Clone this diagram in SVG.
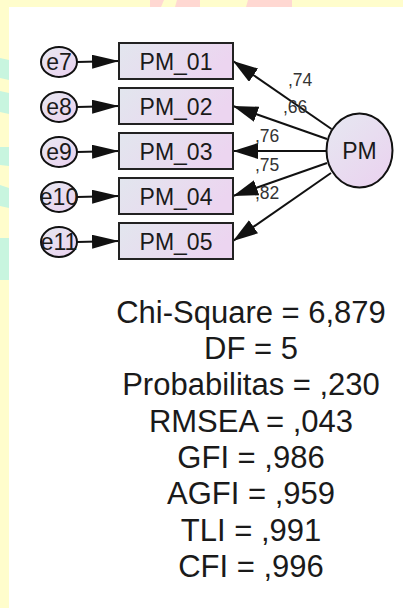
<svg xmlns="http://www.w3.org/2000/svg" width="403" height="608" viewBox="0 0 403 608">
<defs>
<linearGradient id="gBox" x1="0" y1="0" x2="1" y2="0.3">
<stop offset="0" stop-color="#e2e6ee"/>
<stop offset="1" stop-color="#ecd5f0"/>
</linearGradient>
<linearGradient id="gCirc" x1="0" y1="0" x2="0.8" y2="1">
<stop offset="0" stop-color="#e6e8f1"/>
<stop offset="1" stop-color="#ead3ef"/>
</linearGradient>
<marker id="ah" viewBox="0 0 25 16" refX="25" refY="8" markerWidth="25" markerHeight="16" markerUnits="userSpaceOnUse" orient="auto">
<path d="M0,0 L25,8 L0,16 Z" fill="#111"/>
</marker>
<marker id="ahs" viewBox="0 0 27 14" refX="27" refY="7" markerWidth="27" markerHeight="14" markerUnits="userSpaceOnUse" orient="auto">
<path d="M0,0 L27,7 L0,14 Z" fill="#111"/>
</marker>
</defs>
<style>
.box{fill:url(#gBox);stroke:#222;stroke-width:2}
.circ{fill:url(#gCirc);stroke:#111;stroke-width:2}
.t{font-family:"Liberation Sans",Arial,sans-serif;fill:#1a1a1a;text-anchor:middle}
.nt{font-size:23px}
.lbl{font-family:"Liberation Sans",Arial,sans-serif;font-size:17.5px;fill:#333}
.stat{font-size:31px}
.con{stroke:#111;stroke-width:2;fill:none}
</style>
<g id="background">
<rect x="0" y="0" width="403" height="608" fill="#fffdcc"/>
<polygon points="150,0 164,0 161,7 150,7" fill="#ffd8d2"/>
<polygon points="177,0 200,0 200,7 175,7" fill="#ffd8d2"/>
<polygon points="248,0 292,0 292,7 246,7" fill="#ffd8d2"/>
<polygon points="0,58 9,60 9,80 0,78" fill="#c8f5df"/>
<polygon points="0,91 9,93 9,114 0,112" fill="#c8f5df"/>
<polygon points="0,147 9,147 9,166 0,165" fill="#c8f5df"/>
<polygon points="0,185 9,188 9,208 0,206" fill="#c8f5df"/>
<polygon points="0,238 9,238 9,280 0,280" fill="#c8f5df"/>
<rect x="9" y="7" width="394" height="601" fill="#ffffff"/>
</g>
<g id="connectors">
<line class="con" x1="77" y1="62" x2="119" y2="61" marker-end="url(#ahs)"/>
<line class="con" x1="77" y1="107" x2="119" y2="106" marker-end="url(#ahs)"/>
<line class="con" x1="77" y1="152" x2="119" y2="151" marker-end="url(#ahs)"/>
<line class="con" x1="77" y1="197" x2="119" y2="196" marker-end="url(#ahs)"/>
<line class="con" x1="77" y1="242" x2="119" y2="241" marker-end="url(#ahs)"/>
<line class="con" x1="331.5" y1="129" x2="233" y2="61" marker-end="url(#ah)"/>
<line class="con" x1="327" y1="139" x2="233" y2="106" marker-end="url(#ah)"/>
<line class="con" x1="326.5" y1="151" x2="233" y2="151" marker-end="url(#ah)"/>
<line class="con" x1="327" y1="163" x2="233" y2="196" marker-end="url(#ah)"/>
<line class="con" x1="331" y1="173" x2="233" y2="241" marker-end="url(#ah)"/>
<text class="lbl" x="288" y="86">,74</text>
<text class="lbl" x="283" y="113">,66</text>
<text class="lbl" x="255" y="142">,76</text>
<text class="lbl" x="255" y="171">,75</text>
<text class="lbl" x="255" y="199">,82</text>
</g>
<g id="e7"><ellipse class="circ" cx="59" cy="62" rx="18" ry="15"/><text class="t nt" x="59" y="70">e7</text></g>
<g id="e8"><ellipse class="circ" cx="59" cy="107" rx="18" ry="15"/><text class="t nt" x="59" y="115">e8</text></g>
<g id="e9"><ellipse class="circ" cx="59" cy="152" rx="18" ry="15"/><text class="t nt" x="59" y="160">e9</text></g>
<g id="e10"><ellipse class="circ" cx="59" cy="197" rx="18" ry="15"/><text class="t nt" x="59" y="205">e10</text></g>
<g id="e11"><ellipse class="circ" cx="59" cy="242" rx="18" ry="15"/><text class="t nt" x="59" y="250">e11</text></g>
<g id="PM_01"><rect class="box" x="119" y="43" width="114" height="36"/><text class="t nt" x="176" y="69.5">PM_01</text></g>
<g id="PM_02"><rect class="box" x="119" y="88" width="114" height="36"/><text class="t nt" x="176" y="114.5">PM_02</text></g>
<g id="PM_03"><rect class="box" x="119" y="133" width="114" height="36"/><text class="t nt" x="176" y="159.5">PM_03</text></g>
<g id="PM_04"><rect class="box" x="119" y="178" width="114" height="36"/><text class="t nt" x="176" y="204.5">PM_04</text></g>
<g id="PM_05"><rect class="box" x="119" y="223" width="114" height="36"/><text class="t nt" x="176" y="249.5">PM_05</text></g>
<g id="PM"><ellipse class="circ" cx="359.5" cy="150.5" rx="33" ry="37"/><text class="t nt" x="359.5" y="159">PM</text></g>
<g id="fit-stats">
<text class="t stat" x="251" y="323">Chi-Square = 6,879</text>
<text class="t stat" x="251" y="359">DF = 5</text>
<text class="t stat" x="251" y="395">Probabilitas = ,230</text>
<text class="t stat" x="251" y="432">RMSEA = ,043</text>
<text class="t stat" x="251" y="468">GFI = ,986</text>
<text class="t stat" x="251" y="504">AGFI = ,959</text>
<text class="t stat" x="251" y="541">TLI = ,991</text>
<text class="t stat" x="251" y="577">CFI = ,996</text>
</g>
</svg>
